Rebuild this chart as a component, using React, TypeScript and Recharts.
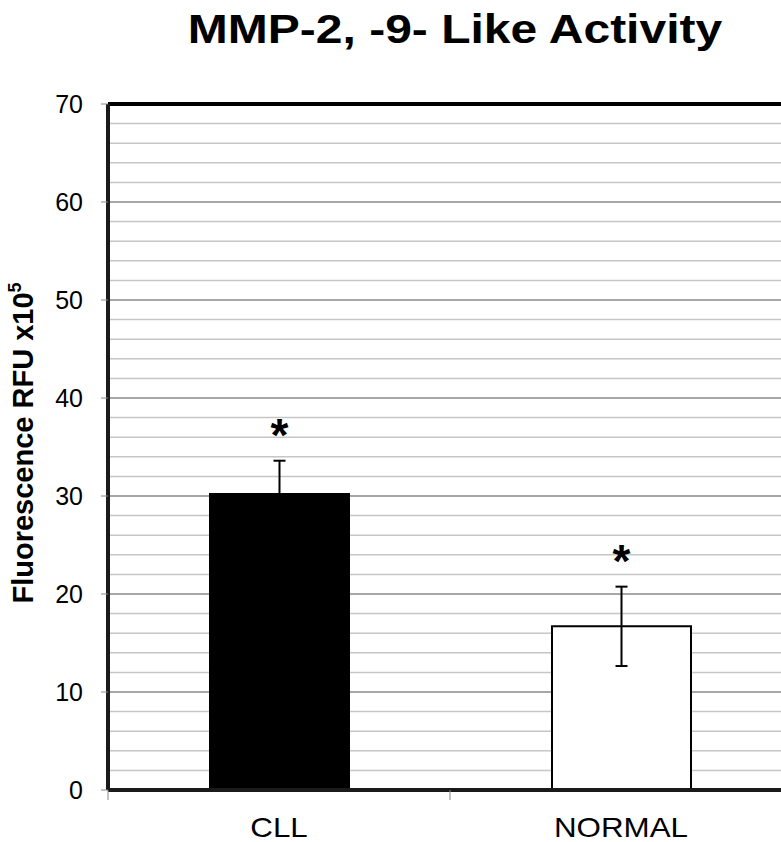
import React from 'react';
import { BarChart, Bar, XAxis, YAxis, CartesianGrid, ErrorBar, Cell, LabelList, ReferenceLine, Label } from 'recharts';

const categories = ['CLL', 'NORMAL'];
const means = [30.2, 16.7];
const errors = [3.4, 4.05];
const barFills = ['#000000', '#ffffff'];
const marks = ['*', '*'];
const yTicks = [0, 10, 20, 30, 40, 50, 60, 70];
const minorGrid = [2, 4, 6, 8, 12, 14, 16, 18, 22, 24, 26, 28, 32, 34, 36, 38, 42, 44, 46, 48, 52, 54, 56, 58, 62, 64, 66, 68];

const data = categories.map((name, i) => ({ name, mean: means[i], err: errors[i] }));

const FONT = '"Liberation Sans", Arial, sans-serif';

function CategoryTick(props: any) {
  const { x, y, payload } = props;
  const half = payload && payload.offset ? payload.offset : 171;
  return (
    <g>
      <line x1={x - half} y1={y} x2={x - half} y2={y + 10} stroke="#888" strokeWidth={1} />
      <text
        transform={`translate(${x} ${y + 47}) scale(1.12 1)`}
        textAnchor="middle"
        fontFamily={FONT}
        fontSize={28}
        fill="#000"
      >
        {payload.value}
      </text>
    </g>
  );
}

function Star(props: any) {
  const vb = props.viewBox || props;
  const i = props.index;
  const { x, y, width, height } = vb;
  const perUnit = height / means[i];
  const top = y - errors[i] * perUnit;
  const cy = top - 32;
  return (
    <text x={x + width / 2} y={cy + 22} textAnchor="middle" fontFamily={FONT} fontSize={46} fontWeight="bold" fill="#000">
      {marks[i]}
    </text>
  );
}

function YTitle(props: any) {
  const vb = props.viewBox;
  const cx = vb.x + 33;
  const cy = vb.y + vb.height / 2 - 4;
  return (
    <text x={cx} y={cy} transform={`rotate(-90 ${cx} ${cy})`} textAnchor="middle" fontFamily={FONT} fontSize={29} fontWeight="bold" fill="#000">
      Fluorescence RFU x10<tspan fontSize={18} dy={-12}>5</tspan>
    </text>
  );
}

export default function App() {
  return (
    <div style={{ position: 'absolute', left: 0, top: 0, width: 781, height: 842, overflow: 'hidden', background: '#fff' }}>
      <div
        style={{
          position: 'absolute',
          left: 0,
          top: 9,
          width: 910,
          textAlign: 'center',
          fontFamily: FONT,
          fontWeight: 'bold',
          fontSize: 40,
          lineHeight: '40px',
          transform: 'scaleX(1.2)',
          transformOrigin: '455px 0',
          color: '#000',
          whiteSpace: 'nowrap',
        }}
      >
        MMP-2, -9- Like Activity
      </div>
      <div style={{ position: 'absolute', left: 0, top: 0 }}>
        <BarChart width={800} height={842} data={data} margin={{ top: 104, right: 8, bottom: 0, left: 0 }} barCategoryGap={0}>
          <CartesianGrid vertical={false} horizontalValues={minorGrid} stroke="#c6c6c6" strokeWidth={1.5} />
          <CartesianGrid vertical={false} horizontalValues={yTicks} stroke="#8a8a8a" strokeWidth={1.5} />
          <XAxis
            dataKey="name"
            height={52}
            axisLine={{ stroke: '#1a1a1a', strokeWidth: 4 }}
            tickLine={false}
            tickSize={0}
            tickMargin={0}
            tick={<CategoryTick />}
            interval={0}
          />
          <YAxis
            width={108}
            domain={[0, 70]}
            ticks={yTicks}
            interval={0}
            axisLine={{ stroke: '#1a1a1a', strokeWidth: 4 }}
            tickLine={{ stroke: '#888', strokeWidth: 1 }}
            tickSize={7}
            tickMargin={18}
            tick={{ fontFamily: FONT, fontSize: 25, fill: '#000' }}
          >
            <Label content={<YTitle />} />
          </YAxis>
          <ReferenceLine y={70} stroke="#000" strokeWidth={4} />
          <Bar dataKey="mean" barSize={139} stroke="#000" strokeWidth={2} isAnimationActive={false}>
            {data.map((d, i) => (
              <Cell key={d.name} fill={barFills[i]} />
            ))}
            <ErrorBar dataKey="err" width={6} strokeWidth={2} stroke="#000" direction="y" />
            <LabelList dataKey="mean" content={<Star />} />
          </Bar>
        </BarChart>
      </div>
    </div>
  );
}
